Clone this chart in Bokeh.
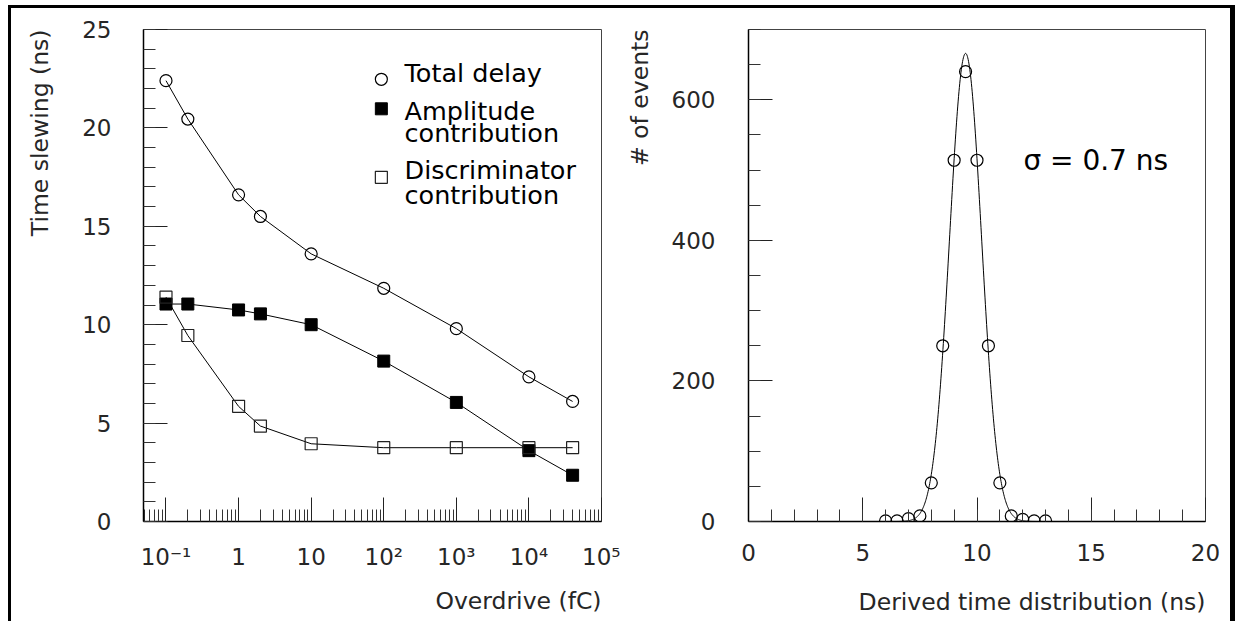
import numpy as np
from bokeh.plotting import figure
from bokeh.models import Range1d, FixedTicker, SingleIntervalTicker, Label, Title
from bokeh.layouts import row
from bokeh.embed import file_html
from bokeh.resources import INLINE

# ---------------- data ----------------
overdrive_fc = [0.1, 0.2, 1, 2, 10, 100, 1000, 10000, 40000]
total_delay = [22.4, 20.45, 16.6, 15.5, 13.6, 11.85, 9.8, 7.35, 6.1]
amplitude_contrib = [11.05, 11.05, 10.75, 10.55, 10.0, 8.15, 6.05, 3.6, 2.35]
discriminator_contrib = [11.4, 9.45, 5.85, 4.85, 3.95, 3.75, 3.75, 3.75, 3.75]

time_ns = [6, 6.5, 7, 7.5, 8, 8.5, 9, 9.5, 10, 10.5, 11, 11.5, 12, 12.5, 13]
n_events = [1, 1, 4, 8, 55, 250, 514, 640, 514, 250, 55, 8, 3, 1, 1]

# Gaussian fit drawn over the histogram (parameters)
fit_amplitude = 666
fit_mean = 9.5
fit_sigma = 0.7

log_major = [0.1, 1, 10, 100, 1000, 10000, 100000]
log_labels = ["10⁻¹", "1", "10", "10²", "10³", "10⁴", "10⁵"]

FONT = "DejaVu Sans"
TXT = "#262626"


def style(p):
    p.xgrid.visible = False
    p.ygrid.visible = False
    p.outline_line_color = "#444444"
    p.outline_line_width = 1
    p.background_fill_color = "white"
    p.border_fill_color = "white"
    for ax in p.axis:
        ax.major_tick_in = 24
        ax.major_tick_out = 0
        ax.minor_tick_in = 12
        ax.minor_tick_out = 0
        ax.major_tick_line_color = "#222222"
        ax.minor_tick_line_color = "#333333"
        ax.axis_line_color = "black"
        ax.axis_line_width = 1.5
        ax.major_label_text_font = FONT
        ax.major_label_text_font_size = "23px"
        ax.major_label_text_color = TXT


def axis_title(p, axis, text, side, gap):
    # the axis' own (blank) label acts as a spacer; the end-aligned title sits beyond it
    axis.axis_label = " "
    axis.axis_label_text_font_size = "1px"
    axis.axis_label_text_color = "white"
    axis.axis_label_standoff = gap
    p.add_layout(Title(text=text, align="right", vertical_align="bottom", standoff=0,
                       text_font=FONT, text_font_size="23.5px", text_font_style="normal",
                       text_color=TXT), side)


# ---------------- left panel ----------------
p1 = figure(x_axis_type="log", x_range=Range1d(0.049, 1.00001e5), y_range=Range1d(0, 25),
            frame_width=458, frame_height=492,
            min_border_left=132, min_border_right=19, min_border_top=21, min_border_bottom=100,
            output_backend="svg", toolbar_location=None)
style(p1)
minor = [k * 10.0 ** n for n in range(-2, 5) for k in range(2, 10) if 0.049 <= k * 10.0 ** n <= 1e5]
p1.xaxis.ticker = FixedTicker(ticks=[float(v) for v in log_major], minor_ticks=minor)
p1.xaxis.major_label_overrides = {float(v): s for v, s in zip(log_major, log_labels)}
p1.yaxis.ticker = SingleIntervalTicker(interval=5, num_minor_ticks=5)
p1.xaxis.major_label_standoff = 22
p1.yaxis.major_label_standoff = 32
axis_title(p1, p1.xaxis[0], "Overdrive (fC)", "below", 8)
axis_title(p1, p1.yaxis[0], "Time slewing (ns)", "left", 22)

p1.line(overdrive_fc, total_delay, line_color="black", line_width=1)
p1.scatter(overdrive_fc, total_delay, marker="circle", size=12, fill_alpha=0,
           line_color="black", line_width=1.2)
p1.line(overdrive_fc, amplitude_contrib, line_color="black", line_width=1)
p1.scatter(overdrive_fc, amplitude_contrib, marker="square", size=12, fill_color="black",
           line_color="black", line_width=1)
p1.line(overdrive_fc, discriminator_contrib, line_color="black", line_width=1)
p1.scatter(overdrive_fc, discriminator_contrib, marker="square", size=12, fill_alpha=0,
           line_color="#222222", line_width=1.2)

# legend (hand-made, as in the original)
leg_x_marker = 92.7
leg_x_text = 193.6
p1.scatter([leg_x_marker], [22.47], marker="circle", size=12, fill_alpha=0, line_color="black", line_width=1.2)
p1.scatter([leg_x_marker], [20.97], marker="square", size=12, fill_color="black", line_color="black")
p1.scatter([leg_x_marker], [17.49], marker="square", size=12, fill_alpha=0, line_color="#222222", line_width=1.2)
for txt, yy in [("Total delay", 22.8), ("Amplitude", 20.88), ("contribution", 19.74),
                ("Discriminator", 17.88), ("contribution", 16.6)]:
    p1.add_layout(Label(x=leg_x_text, y=yy, text=txt, text_font=FONT, text_font_size="25.5px",
                        text_color="black", text_baseline="middle", text_align="left"))

# ---------------- right panel ----------------
p2 = figure(x_range=Range1d(0, 20), y_range=Range1d(0, 700),
            frame_width=457, frame_height=492,
            min_border_left=128, min_border_right=25, min_border_top=21, min_border_bottom=100,
            output_backend="svg", toolbar_location=None)
style(p2)
p2.xaxis.ticker = SingleIntervalTicker(interval=5, num_minor_ticks=5)
p2.yaxis.ticker = SingleIntervalTicker(interval=200, num_minor_ticks=4)
p2.xaxis.major_label_standoff = 22
p2.yaxis.major_label_standoff = 33
axis_title(p2, p2.xaxis[0], "Derived time distribution (ns)", "below", 18)
axis_title(p2, p2.yaxis[0], "# of events", "left", 11)

xf = np.linspace(time_ns[0], time_ns[-1], 400)
yf = fit_amplitude * np.exp(-0.5 * ((xf - fit_mean) / fit_sigma) ** 2)
p2.line(xf, yf, line_color="black", line_width=1)
p2.scatter(time_ns, n_events, marker="circle", size=12, fill_alpha=0, line_color="black", line_width=1.2)
p2.add_layout(Label(x=12.03, y=513, text="σ = 0.7 ns", text_font=FONT, text_font_size="28px",
                    text_color="black", text_baseline="middle", text_align="left"))

layout = row(p1, p2, styles={"border-left": "3px solid black", "border-top": "3px solid black",
                             "border-right": "5px solid black",
                             "margin-left": "8px", "margin-top": "5px"})

open("out.html", "w").write(file_html(layout, INLINE))
